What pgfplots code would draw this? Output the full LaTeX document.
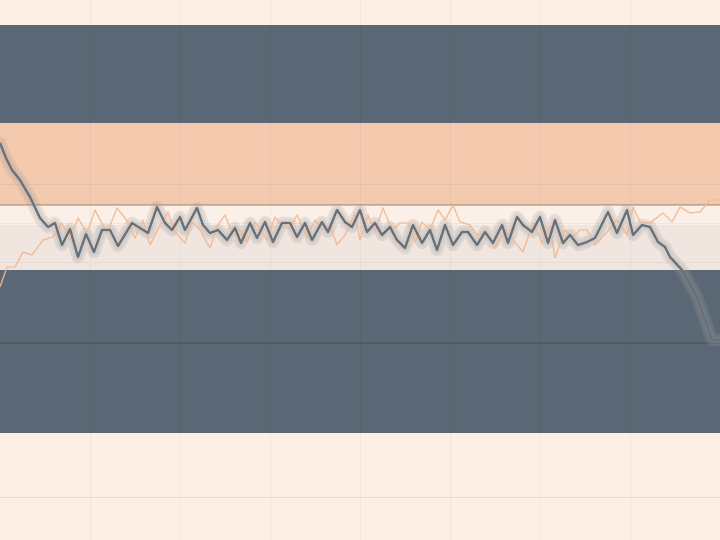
\documentclass[border=0pt]{standalone}
\usepackage{pgfplots}
\pgfplotsset{compat=1.18}
\usepackage{pgfplotstable}

\definecolor{cream}{HTML}{FCEFE3}
\definecolor{slate}{HTML}{5A6875}
\definecolor{peach}{HTML}{F4CAAE}
\definecolor{paleband}{HTML}{FBF0E7}
\definecolor{greyband}{HTML}{F0E6DF}
\definecolor{darkline}{HTML}{66717C}
\definecolor{halo}{HTML}{A09D9A}
\definecolor{peachline}{HTML}{F2B892}

% pixel coordinates, y measured from the top
\pgfplotstableread{
x y
0 143
6 158
12 170
20 180
30 197
40 218
48 227
55 223
62 245
70 229
78 257
86 234
94 252
102 230
110 230
118 246
132 223
148 233
157 207
165 223
172 230
180 217
185 230
197 208
203 225
210 233
218 230
227 240
235 228
241 243
250 223
257 238
265 222
273 242
282 223
290 223
297 237
305 223
312 240
322 222
328 232
337 210
345 222
352 227
360 210
367 232
375 223
382 235
390 227
397 240
405 248
413 225
422 243
430 230
437 250
445 225
453 245
462 232
468 232
477 245
485 232
493 243
502 225
508 243
517 217
523 225
532 232
540 217
548 243
555 220
563 243
570 235
578 245
587 242
595 238
608 212
617 233
627 210
633 235
642 225
650 227
658 242
665 247
670 257
682 270
697 297
712 340
720 340
}\darkdata

\pgfplotstableread{
x y
0 287
7 267
15 267
23 252
32 255
43 240
53 237
62 223
70 240
78 218
87 233
95 210
107 233
117 208
128 222
135 238
143 220
150 245
160 225
168 212
175 232
185 243
192 222
200 230
210 248
218 225
225 215
233 235
240 230
247 242
255 222
267 240
275 217
283 227
290 228
297 215
307 237
315 220
322 230
330 225
337 245
345 235
355 213
360 240
368 215
375 232
383 208
392 230
400 223
408 223
415 242
422 222
430 230
438 210
445 220
453 205
460 222
470 225
477 235
487 233
495 248
505 230
513 240
523 252
533 223
542 243
550 227
555 258
565 230
573 237
580 230
587 230
595 245
607 232
617 220
627 235
633 207
640 222
650 223
663 213
672 222
680 207
690 213
700 212
710 200
720 200
}\peachdata

\begin{document}
\begin{tikzpicture}
\begin{axis}[
    width=7.2in, height=5.4in, scale only axis,
    hide axis,
    xmin=0, xmax=720, ymin=0, ymax=540,
    y dir=reverse,
    clip=true,
]
% bands
\addplot[fill=cream, draw=none] coordinates {(0,0) (720,0) (720,540) (0,540)} -- cycle;
\addplot[fill=slate, draw=none] coordinates {(0,25) (720,25) (720,123) (0,123)} -- cycle;
\addplot[fill=peach, draw=none] coordinates {(0,123) (720,123) (720,205) (0,205)} -- cycle;
\addplot[fill=paleband, draw=none] coordinates {(0,205) (720,205) (720,225) (0,225)} -- cycle;
\addplot[fill=greyband, draw=none] coordinates {(0,225) (720,225) (720,270) (0,270)} -- cycle;
\addplot[fill=slate, draw=none] coordinates {(0,270) (720,270) (720,433) (0,433)} -- cycle;

% faint grid
\pgfplotsinvokeforeach{90,180,270,360,450,540,630}{
  \addplot[black, opacity=0.035, line width=0.7pt] coordinates {(#1,0) (#1,540)};
}
\addplot[black, opacity=0.05, line width=0.7pt] coordinates {(0,184) (720,184)};
\addplot[black, opacity=0.20, line width=0.8pt] coordinates {(0,205) (720,205)};
\addplot[black, opacity=0.04, line width=0.7pt] coordinates {(0,223) (720,223)};
\addplot[black, opacity=0.04, line width=0.7pt] coordinates {(0,262) (720,262)};
\addplot[black, opacity=0.12, line width=0.8pt] coordinates {(0,343) (720,343)};
\addplot[black, opacity=0.09, line width=0.7pt] coordinates {(0,497) (720,497)};

% series
\addplot[halo, opacity=0.22, line width=9pt, line join=round, line cap=round] table {\darkdata};
\addplot[halo, opacity=0.18, line width=5pt, line join=round, line cap=round] table {\darkdata};
\addplot[peachline, opacity=0.85, line width=1pt, line join=round] table {\peachdata};
\addplot[darkline, line width=1.6pt, line join=round] table {\darkdata};
\end{axis}
\end{tikzpicture}
\end{document}
